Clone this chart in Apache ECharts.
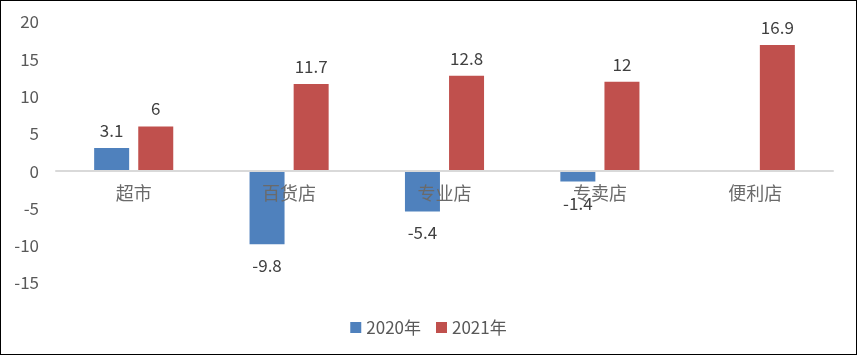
<!DOCTYPE html>
<html><head><meta charset="utf-8">
<script src="https://cdn.jsdelivr.net/npm/echarts@6/dist/echarts.min.js"></script>
<style>html,body{margin:0;padding:0;background:#fff}#c{width:855px;height:353px;border:1px solid #000;}</style>
</head><body><div id="c"></div>
<script>
const categories = ['超市','百货店','专业店','专卖店','便利店'];
const seriesNames = ['2020年','2021年'];
const values2020 = [3.1, -9.8, -5.4, -1.4, null];
const values2021 = [6, 11.7, 12.8, 12, 16.9];
const yTicks = {min: -15, max: 20, interval: 5};

const font = '"Noto Sans CJK SC", "Liberation Sans", sans-serif';
function mk(vals){
  return vals.map(v => v === null ? null : ({
    value: v,
    label: {position: v < 0 ? 'bottom' : 'top', distance: v < 0 ? 13 : 9}
  }));
}
const gridTop = 21, gridBottom = 71, H = 353;
const plotH = H - gridTop - gridBottom;
const zeroOffset = plotH * (0 - yTicks.min) / (yTicks.max - yTicks.min);
const chart = echarts.init(document.getElementById('c'));
chart.setOption({
  animation: false,
  textStyle: {fontFamily: font},
  grid: {left: 55, right: 23, top: gridTop, bottom: gridBottom, containLabel: false},
  legend: {
    data: seriesNames, top: 313, left: 'center',
    itemWidth: 11, itemHeight: 11, itemGap: 15, icon: 'rect',
    textStyle: {fontSize: 17, color: '#595959', fontFamily: font}
  },
  xAxis: {
    type: 'category', data: categories, offset: -zeroOffset, z: 10,
    axisLine: {onZero: false, lineStyle: {color: '#D9D9D9', width: 2}},
    axisTick: {show: false},
    axisLabel: {margin: 13, fontSize: 18, color: '#6a6a6a', fontFamily: font}
  },
  yAxis: {
    type: 'value', min: yTicks.min, max: yTicks.max, interval: yTicks.interval,
    splitLine: {show: false}, axisLine: {show: false}, axisTick: {show: false},
    axisLabel: {margin: 17, fontSize: 17, color: '#595959', fontFamily: font}
  },
  series: [
    {name: seriesNames[0], type: 'bar', data: mk(values2020), barWidth: 35, barGap: '26%',
     itemStyle: {color: '#4F81BD'},
     label: {show: true, fontSize: 17, color: '#404040', fontFamily: font}},
    {name: seriesNames[1], type: 'bar', data: mk(values2021), barWidth: 35, barGap: '26%',
     itemStyle: {color: '#C0504D'},
     label: {show: true, fontSize: 17, color: '#404040', fontFamily: font}}
  ]
});
</script></body></html>
